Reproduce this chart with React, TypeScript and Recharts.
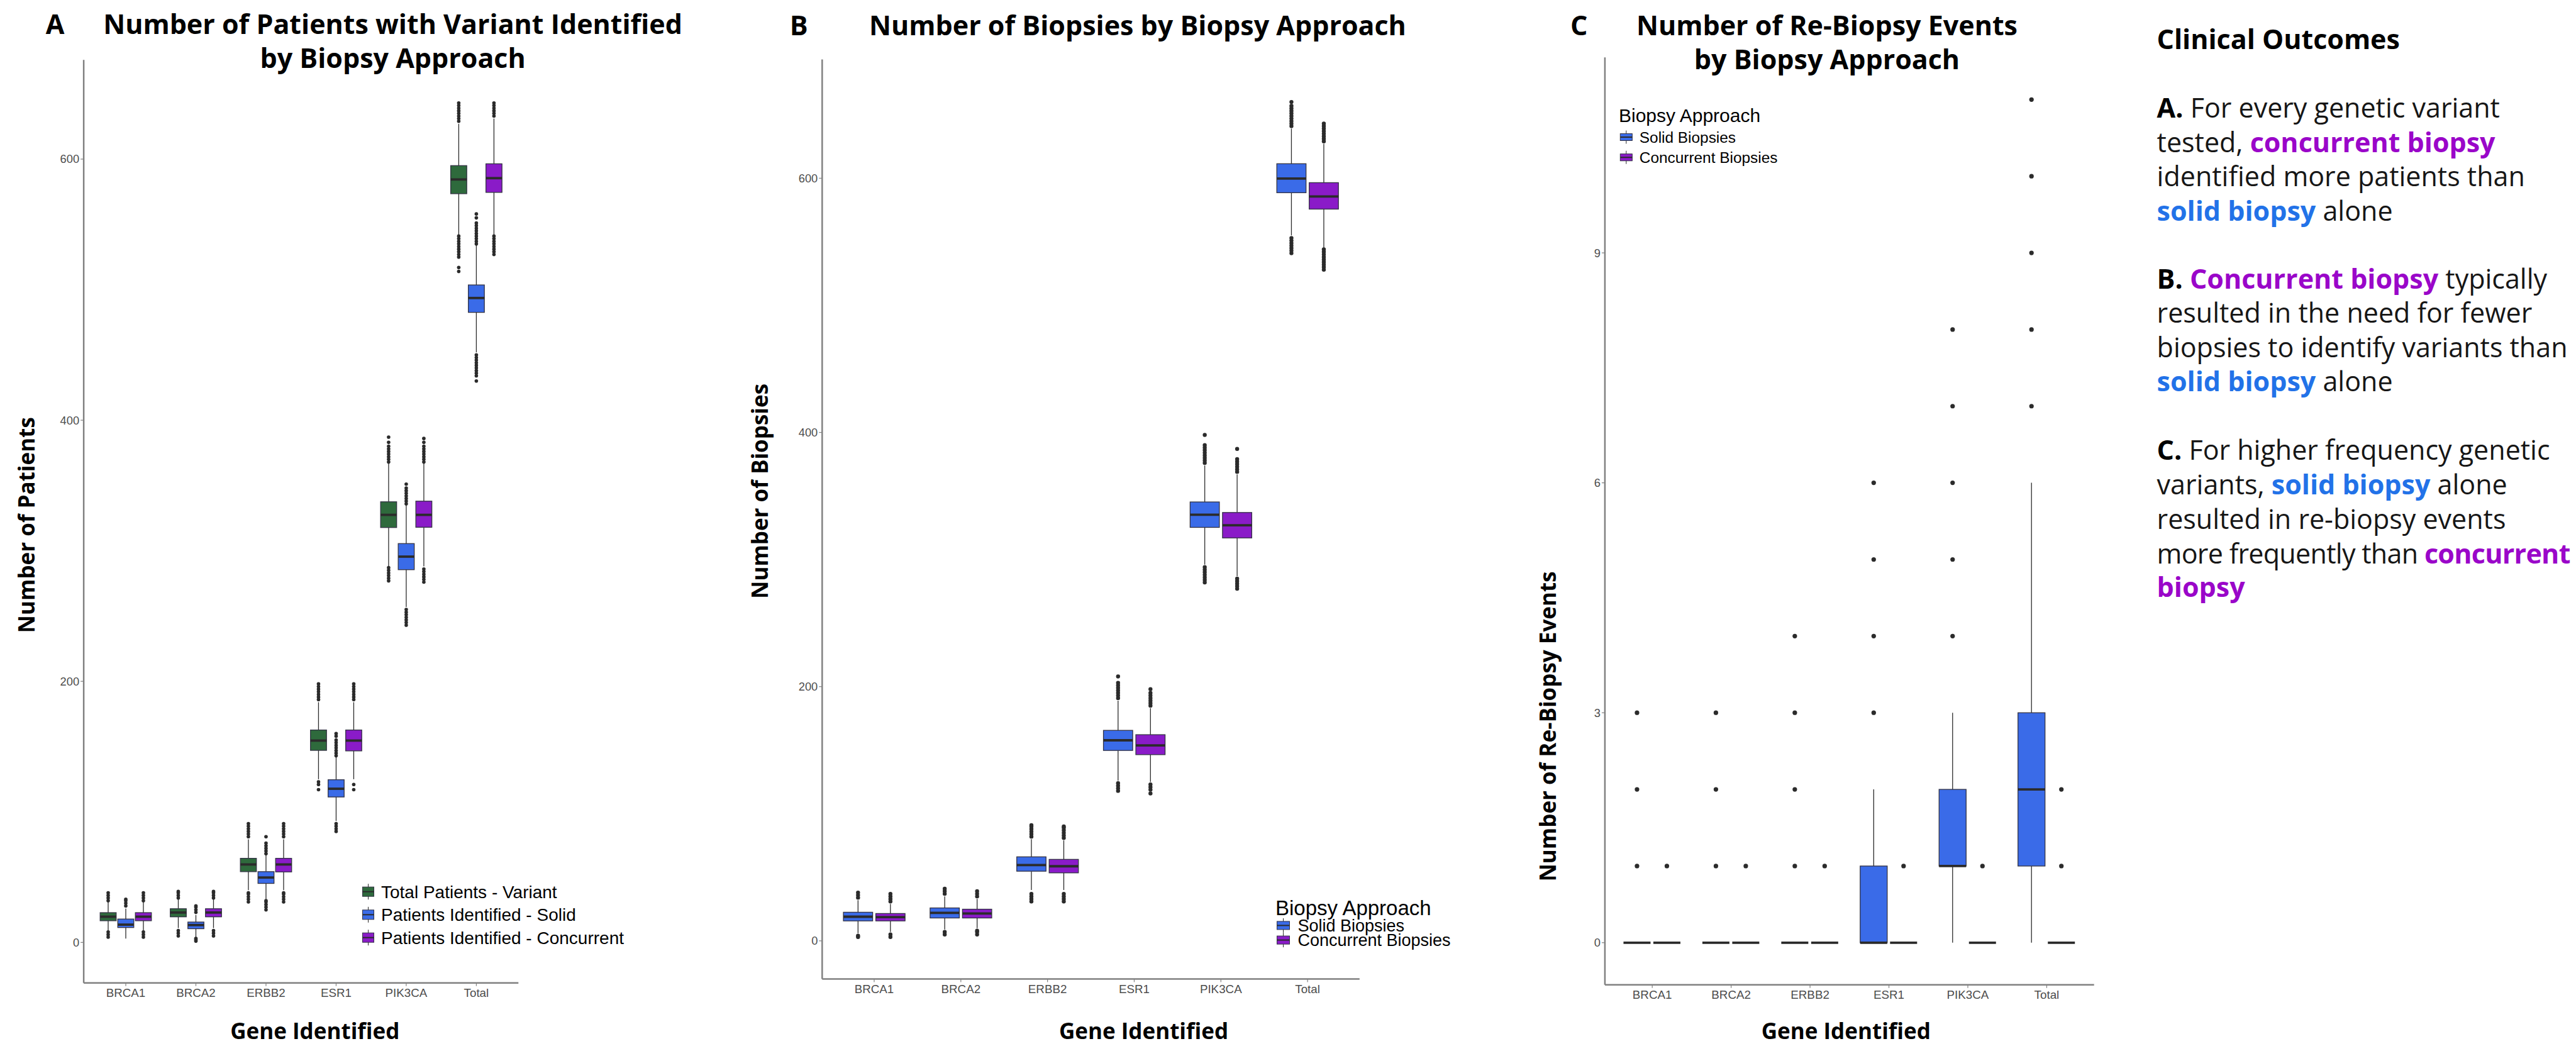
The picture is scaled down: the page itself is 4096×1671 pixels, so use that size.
import React from 'react';
import { BarChart, Bar, XAxis, YAxis } from 'recharts';

const W = 4096;
const H = 1671;

const CATEGORIES = ['BRCA1', 'BRCA2', 'ERBB2', 'ESR1', 'PIK3CA', 'Total'];

// Each box: [q1, median, q3, whiskerLow, whiskerHigh]
// Panel A – Number of patients with variant identified
const A_TOTAL_BOX = [
  [16.6, 19.7, 22.8, 9, 31],
  [19.6, 22.9, 25.8, 11, 33],
  [54.2, 59.7, 64.4, 40, 79],
  [147.1, 154.6, 162.7, 125, 184],
  [317.8, 327.5, 337.5, 288, 367],
  [573.5, 584.4, 595.0, 542, 627],
];
const A_TOTAL_OUT = [
  [4, 6, 8, 32, 34, 36, 38],
  [5, 7, 9, 34, 36, 38, 39],
  [31, 33, 35, 37, 38, 81, 83, 85, 87, 89, 91],
  [117, 121, 123, 186, 188, 190, 192, 194, 196, 198],
  [277, 279, 281, 283, 285, 287, 368, 370, 372, 374, 376, 378, 380, 383, 387],
  [514, 517, 525, 527, 529, 531, 533, 535, 537, 539, 541, 629, 631, 633, 635, 637, 639, 641, 643],
];
const A_SOLID_BOX = [
  [11.4, 13.6, 17.9, 3, 26],
  [10.5, 13.3, 15.6, 4, 21],
  [45.2, 49.7, 54.2, 33, 67],
  [111.4, 117.7, 124.6, 93, 142],
  [285.5, 295.5, 305.5, 257, 335],
  [482.6, 493.6, 503.6, 452, 534],
];
const A_SOLID_OUT = [
  [28, 30, 32, 33],
  [1, 2, 3, 23, 25, 27, 28],
  [25, 27, 29, 31, 32, 68, 70, 72, 74, 76, 81],
  [85, 87, 89, 91, 143, 145, 147, 149, 151, 153, 155, 158, 160],
  [243, 245, 247, 249, 251, 253, 255, 336, 338, 340, 342, 344, 346, 348, 351],
  [430, 434, 436, 438, 440, 442, 444, 446, 448, 450, 535, 537, 539, 541, 543, 545, 547, 549, 551, 555, 558],
];
const A_CONC_BOX = [
  [16.6, 19.7, 22.8, 9, 31],
  [19.6, 22.9, 25.8, 11, 33],
  [54.0, 59.7, 64.4, 40, 79],
  [146.7, 154.6, 162.7, 125, 184],
  [318.0, 327.5, 338.0, 288, 367],
  [574.5, 585.4, 596.4, 542, 631],
];
const A_CONC_OUT = [
  [4, 6, 8, 32, 34, 36, 38],
  [5, 7, 9, 34, 36, 38, 39],
  [31, 33, 35, 37, 38, 81, 83, 85, 87, 89, 91],
  [117, 121, 186, 188, 190, 192, 194, 196, 198],
  [276, 278, 280, 282, 284, 286, 368, 370, 372, 374, 376, 378, 380, 383, 386],
  [527, 529, 531, 533, 535, 537, 539, 541, 633, 635, 637, 639, 641, 643],
];

// Panel B – Number of biopsies
const B_SOLID_BOX = [
  [15.7, 19.0, 22.5, 6, 32],
  [18.0, 22.0, 25.9, 9, 35],
  [54.8, 59.6, 66.1, 40, 80],
  [149.8, 157.8, 165.6, 126, 189],
  [325.3, 335.3, 345.3, 296, 374],
  [588.6, 599.7, 611.4, 555, 639],
];
const B_SOLID_OUT = [
  [3, 4, 34, 36, 38],
  [5, 7, 37, 39, 41],
  [31, 33, 35, 37, 82, 84, 86, 88, 90, 91],
  [118, 120, 122, 124, 191, 193, 195, 197, 199, 201, 203, 208],
  [282, 284, 286, 288, 290, 292, 294, 376, 378, 380, 382, 384, 386, 388, 390, 398],
  [541, 543, 545, 547, 549, 551, 553, 641, 643, 645, 647, 649, 651, 653, 655, 657, 660],
];
const B_CONC_BOX = [
  [15.7, 18.7, 21.5, 7, 29],
  [18.0, 21.5, 24.9, 10, 33],
  [53.5, 58.7, 64.1, 40, 79],
  [146.5, 153.8, 162.2, 125, 183],
  [317.0, 327.0, 337.0, 287, 367],
  [575.7, 585.6, 596.5, 545, 627],
];
const B_CONC_OUT = [
  [3, 5, 31, 33, 35, 37],
  [5, 7, 8, 35, 37, 39],
  [31, 33, 35, 37, 81, 83, 85, 87, 89, 90],
  [116, 119, 121, 123, 185, 187, 189, 191, 193, 195, 198],
  [277, 279, 281, 283, 285, 369, 371, 373, 375, 377, 379, 387],
  [528, 530, 532, 534, 536, 538, 540, 542, 544, 629, 631, 633, 635, 637, 639, 641, 643],
];

// Panel C – Number of re-biopsy events
const C_SOLID_BOX = [
  [0, 0, 0, 0, 0],
  [0, 0, 0, 0, 0],
  [0, 0, 0, 0, 0],
  [0, 0, 1, 0, 2],
  [1, 1, 2, 0, 3],
  [1, 2, 3, 0, 6],
];
const C_SOLID_OUT = [
  [1, 2, 3],
  [1, 2, 3],
  [1, 2, 3, 4],
  [3, 4, 5, 6],
  [4, 5, 6, 7, 8],
  [7, 8, 9, 10, 11],
];
const C_CONC_BOX = [
  [0, 0, 0, 0, 0],
  [0, 0, 0, 0, 0],
  [0, 0, 0, 0, 0],
  [0, 0, 0, 0, 0],
  [0, 0, 0, 0, 0],
  [0, 0, 0, 0, 0],
];
const C_CONC_OUT = [[1], [1], [1], [1], [1], [1, 2]];

const A_TICKS = [0, 200, 400, 600];
const B_TICKS = [0, 200, 400, 600];
const C_TICKS = [0, 3, 6, 9];

const GREEN = '#2e6a3c';
const BLUE = '#3a6be8';
const PURPLE = '#8a1bc8';
const AXIS = '#808080';
const TICKTXT = '#4d4d4d';
const INK = '#2b2b2b';

type Series = { key: string; name: string; fill: string; box: number[][]; out: number[][] };

function buildRows(series: Series[]) {
  return CATEGORIES.map((cat, i) => {
    const row: any = { cat };
    series.forEach((s) => {
      const [q1, med, q3, wlo, whi] = s.box[i];
      const out = s.out[i];
      const lo = Math.min(wlo, ...out);
      const hi = Math.max(whi, ...out);
      row[s.key] = { q1, med, q3, wlo, whi, out, lo, hi };
    });
    return row;
  });
}

const makeBoxShape = (key: string, fill: string, r: number, medW: number) => (props: any) => {
  const { x, y, width, height, payload } = props;
  const s = payload && payload[key];
  if (!s || !(s.hi > s.lo)) return <g />;
  const top = Math.min(y, y + height);
  const h = Math.abs(height);
  const py = (v: number) => top + ((s.hi - v) * h) / (s.hi - s.lo);
  const cx = x + width / 2;
  const yq3 = py(s.q3);
  const yq1 = py(s.q1);
  return (
    <g>
      <line x1={cx} x2={cx} y1={py(s.whi)} y2={yq3} stroke={INK} strokeWidth={1.3} />
      <line x1={cx} x2={cx} y1={yq1} y2={py(s.wlo)} stroke={INK} strokeWidth={1.3} />
      <rect x={x} y={yq3} width={width} height={Math.max(0, yq1 - yq3)} fill={fill} stroke="#333344" strokeWidth={1.3} />
      <line x1={x} x2={x + width} y1={py(s.med)} y2={py(s.med)} stroke={INK} strokeWidth={medW} />
      {s.out.map((v: number, j: number) => (
        <circle key={j} cx={cx} cy={py(v)} r={r} fill={INK} />
      ))}
    </g>
  );
};

type PanelProps = {
  left: number;
  width: number;
  plot: number[];
  domain: number[];
  ticks: number[];
  series: Series[];
  barSize: number;
  barGap: number;
  dotR: number;
};

function BoxPanel({ left, width, plot, domain, ticks, series, barSize, barGap, dotR }: PanelProps) {
  const [px0, px1, py0, py1] = plot;
  const unit = (px1 - px0) / 6.2;
  const pad = unit * 0.1;
  const XH = 40;
  const rows = buildRows(series);
  return (
    <div style={{ position: 'absolute', left, top: 0 }}>
      <BarChart
        width={width}
        height={H}
        data={rows}
        barGap={barGap}
        margin={{ top: py0, left: 0, right: left + width - px1, bottom: H - py1 - XH }}
      >
        <XAxis
          dataKey="cat"
          type="category"
          height={XH}
          interval={0}
          padding={{ left: pad, right: pad }}
          axisLine={{ stroke: AXIS, strokeWidth: 2.5 }}
          tickLine={{ stroke: AXIS, strokeWidth: 1.2 }}
          tickSize={5}
          tickMargin={4}
          tick={{ fill: TICKTXT, fontSize: 18.8, fontFamily: 'Liberation Sans, Arial, sans-serif' }}
        />
        <YAxis
          type="number"
          domain={domain}
          ticks={ticks}
          allowDataOverflow
          width={px0 - left}
          axisLine={{ stroke: AXIS, strokeWidth: 2.5 }}
          tickLine={{ stroke: AXIS, strokeWidth: 1.2 }}
          tickSize={5}
          tickMargin={2}
          tick={{ fill: TICKTXT, fontSize: 18.3, fontFamily: 'Liberation Sans, Arial, sans-serif' }}
        />
        {series.map((s) => (
          <Bar
            key={s.key}
            name={s.name}
            dataKey={(d: any) => [d[s.key].lo, d[s.key].hi]}
            barSize={barSize}
            fill={s.fill}
            isAnimationActive={false}
            shape={makeBoxShape(s.key, s.fill, dotR, 3.8)}
          />
        ))}
      </BarChart>
    </div>
  );
}

const SERIES_A: Series[] = [
  { key: 'total', name: 'Total Patients - Variant', fill: GREEN, box: A_TOTAL_BOX, out: A_TOTAL_OUT },
  { key: 'solid', name: 'Patients Identified - Solid', fill: BLUE, box: A_SOLID_BOX, out: A_SOLID_OUT },
  { key: 'conc', name: 'Patients Identified - Concurrent', fill: PURPLE, box: A_CONC_BOX, out: A_CONC_OUT },
];
const SERIES_B: Series[] = [
  { key: 'solid', name: 'Solid Biopsies', fill: BLUE, box: B_SOLID_BOX, out: B_SOLID_OUT },
  { key: 'conc', name: 'Concurrent Biopsies', fill: PURPLE, box: B_CONC_BOX, out: B_CONC_OUT },
];
const SERIES_C: Series[] = [
  { key: 'solid', name: 'Solid Biopsies', fill: BLUE, box: C_SOLID_BOX, out: C_SOLID_OUT },
  { key: 'conc', name: 'Concurrent Biopsies', fill: PURPLE, box: C_CONC_BOX, out: C_CONC_OUT },
];

const TITLE_FONT = "'Open Sans', 'DejaVu Sans', sans-serif";
const LEG_FONT = 'Liberation Sans, Arial, sans-serif';

function LegendKey({ cx, cy, w, h, fill }: { cx: number; cy: number; w: number; h: number; fill: string }) {
  return (
    <g>
      <line x1={cx} x2={cx} y1={cy - h / 2 - 5} y2={cy + h / 2 + 5} stroke={INK} strokeWidth={1} />
      <rect x={cx - w / 2} y={cy - h / 2} width={w} height={h} fill={fill} stroke="#333344" strokeWidth={1} />
      <line x1={cx - w / 2} x2={cx + w / 2} y1={cy} y2={cy} stroke={INK} strokeWidth={2} />
    </g>
  );
}

type Seg = [string, string];
const OUTCOME_LINES: Seg[][] = [
  [['A.', 'b'], [' For every genetic variant', 'n']],
  [['tested, ', 'n'], ['concurrent biopsy', 'p']],
  [['identified more patients than', 'n']],
  [['solid biopsy', 'l'], [' alone', 'n']],
  [['B.', 'b'], [' ', 'n'], ['Concurrent biopsy', 'p'], [' typically', 'n']],
  [['resulted in the need for fewer', 'n']],
  [['biopsies to identify variants than', 'n']],
  [['solid biopsy', 'l'], [' alone', 'n']],
  [['C.', 'b'], [' For higher frequency genetic', 'n']],
  [['variants, ', 'n'], ['solid biopsy', 'l'], [' alone', 'n']],
  [['resulted in re-biopsy events', 'n']],
  [['more frequently than ', 'n'], ['concurrent', 'p']],
  [['biopsy', 'p']],
];
const OUTCOME_BASELINES = [187.3, 242, 296.4, 351, 459, 513.2, 568, 621.5, 731.4, 786.4, 840.6, 895.5, 948.5];
const OUTCOME_SPACING = [0, 0, 0, 0, 0, 0, 0, 0, 0, 0, 0, -0.7, 0];
const SEG_STYLE: Record<string, { fill: string; fontWeight: number }> = {
  n: { fill: '#161616', fontWeight: 400 },
  b: { fill: '#000000', fontWeight: 700 },
  p: { fill: '#9a06c9', fontWeight: 700 },
  l: { fill: '#2272e8', fontWeight: 700 },
};

function Overlay() {
  return (
    <svg width={W} height={H} style={{ position: 'absolute', left: 0, top: 0, pointerEvents: 'none' }}>
      {/* Panel titles */}
      <g fontFamily={TITLE_FONT} fontWeight={700} fontSize={43} fill="#000">
        <text x={72.8} y={54.2}>A</text>
        <text x={624.6} y={54.2} textAnchor="middle">Number of Patients with Variant Identified</text>
        <text x={624.6} y={108.4} textAnchor="middle">by Biopsy Approach</text>
        <text x={1255.7} y={55.5}>B</text>
        <text x={1809} y={55.5} textAnchor="middle">Number of Biopsies by Biopsy Approach</text>
        <text x={2497} y={55.5}>C</text>
        <text x={2905} y={55.5} textAnchor="middle">Number of Re-Biopsy Events</text>
        <text x={2905} y={109.7} textAnchor="middle">by Biopsy Approach</text>
      </g>
      {/* Axis titles */}
      <g fontFamily={TITLE_FONT} fontWeight={700} fontSize={35} fill="#000">
        <text x={500.8} y={1651.6} textAnchor="middle">Gene Identified</text>
        <text x={1818.5} y={1651.6} textAnchor="middle">Gene Identified</text>
        <text x={2935.3} y={1651.6} textAnchor="middle">Gene Identified</text>
        <text transform="translate(42.6,834.8) rotate(-90)" textAnchor="middle" dy="0.35em">Number of Patients</text>
        <text transform="translate(1209,781) rotate(-90)" textAnchor="middle" dy="0.35em">Number of Biopsies</text>
        <text transform="translate(2462,1155) rotate(-90)" textAnchor="middle" dy="0.35em">Number of Re-Biopsy Events</text>
      </g>
      {/* Legend A */}
      <g fontFamily={LEG_FONT} fontSize={28} fill="#000">
        {SERIES_A.map((s, i) => {
          const cy = [1417.7, 1454.3, 1490.7][i];
          return (
            <g key={s.key}>
              <LegendKey cx={585.5} cy={cy} w={18} h={15} fill={s.fill} />
              <text x={606} y={cy} dy="0.35em">{s.name}</text>
            </g>
          );
        })}
      </g>
      {/* Legend B */}
      <g fontFamily={LEG_FONT} fill="#000">
        <text x={2028} y={1443.4} dy="0.35em" fontSize={33}>Biopsy Approach</text>
        {SERIES_B.map((s, i) => {
          const cy = [1471.4, 1494.6][i];
          return (
            <g key={s.key}>
              <LegendKey cx={2040.5} cy={cy} w={20} h={13} fill={s.fill} />
              <text x={2063.5} y={cy} dy="0.35em" fontSize={27}>{s.name}</text>
            </g>
          );
        })}
      </g>
      {/* Legend C */}
      <g fontFamily={LEG_FONT} fill="#000">
        <text x={2574} y={183.4} dy="0.35em" fontSize={30}>Biopsy Approach</text>
        {SERIES_C.map((s, i) => {
          const cy = [218, 250.2][i];
          return (
            <g key={s.key}>
              <LegendKey cx={2585.8} cy={cy} w={19} h={11} fill={s.fill} />
              <text x={2606.8} y={cy} dy="0.35em" fontSize={24.4}>{s.name}</text>
            </g>
          );
        })}
      </g>
      {/* Clinical outcomes text */}
      <g fontFamily={TITLE_FONT} fontSize={43}>
        <text x={3429.6} y={78.2} fontWeight={700} fill="#000">Clinical Outcomes</text>
        {OUTCOME_LINES.map((line, i) => (
          <text key={i} x={3429.6} y={OUTCOME_BASELINES[i]} letterSpacing={OUTCOME_SPACING[i]} style={{ whiteSpace: 'pre' }}>
            {line.map(([t, st], j) => (
              <tspan key={j} fill={SEG_STYLE[st].fill} fontWeight={SEG_STYLE[st].fontWeight}>{t}</tspan>
            ))}
          </text>
        ))}
      </g>
    </svg>
  );
}

export default function App() {
  return (
    <div style={{ position: 'absolute', left: 0, top: 0, width: W, height: H, background: '#fff', overflow: 'hidden' }}>
      <BoxPanel
        left={0}
        width={860}
        plot={[133.1, 824.3, 95.2, 1562.7]}
        domain={[-31, 676]}
        ticks={A_TICKS}
        series={SERIES_A}
        barSize={25.5}
        barGap={2.5}
        dotR={2.8}
      />
      <BoxPanel
        left={1200}
        width={1000}
        plot={[1307.3, 2161.8, 94.4, 1556.5]}
        domain={[-30, 693.5]}
        ticks={B_TICKS}
        series={SERIES_B}
        barSize={46.5}
        barGap={5}
        dotR={3.2}
      />
      <BoxPanel
        left={2450}
        width={950}
        plot={[2551.9, 3329.7, 91.3, 1565.8]}
        domain={[-0.55, 11.55]}
        ticks={C_TICKS}
        series={SERIES_C}
        barSize={43}
        barGap={4.5}
        dotR={3.6}
      />
      <Overlay />
    </div>
  );
}
